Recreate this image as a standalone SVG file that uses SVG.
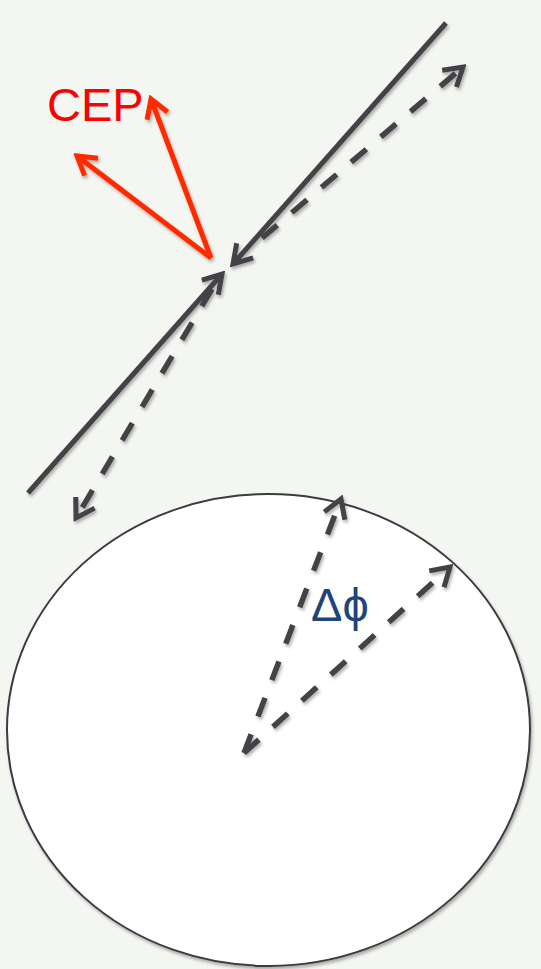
<svg xmlns="http://www.w3.org/2000/svg" width="541" height="969" viewBox="0 0 541 969">
  <style>
    .solid { stroke: #434347; stroke-width: 5; fill: none; stroke-linecap: butt; }
    .dash { stroke: #434347; stroke-width: 5.5; fill: none; stroke-dasharray: 20 19; }
    .red { stroke: #ff2a00; stroke-width: 5; fill: none; }
    .lbl { font-family: "Liberation Sans", Arial, sans-serif; font-size: 47px; }
  </style>
  <defs>
    <filter id="sh" x="-20%" y="-20%" width="140%" height="140%">
      <feDropShadow dx="1.5" dy="2.5" stdDeviation="1.5" flood-color="#000" flood-opacity="0.3"/>
    </filter>
    <marker id="ag" markerUnits="userSpaceOnUse" viewBox="-22 -14 26 28" markerWidth="26" markerHeight="28" refX="0" refY="0" orient="auto">
      <path d="M-18,-11 L0,0 L-18,11" fill="none" stroke="#434347" stroke-width="5" stroke-linecap="butt"/>
    </marker>
    <marker id="ar" markerUnits="userSpaceOnUse" viewBox="-22 -14 26 28" markerWidth="26" markerHeight="28" refX="0" refY="0" orient="auto">
      <path d="M-18,-11 L0,0 L-18,11" fill="none" stroke="#ff2a00" stroke-width="5" stroke-linecap="butt"/>
    </marker>
  </defs>
  <rect x="0" y="0" width="541" height="969" fill="#f4f6f2"/>

  <g id="circle">
    <ellipse cx="268.5" cy="730" rx="261.5" ry="236" fill="#ffffff" stroke="#3a3a3f" stroke-width="2" filter="url(#sh)"/>
  </g>

  <g id="connectors" filter="url(#sh)">
    <line class="solid" x1="446" y1="23" x2="233" y2="264" marker-end="url(#ag)"/>
    <line class="solid" x1="28" y1="493" x2="222" y2="274" marker-end="url(#ag)"/>
    <line class="dash" x1="262" y1="238" x2="463" y2="67" marker-end="url(#ag)"/>
    <line class="dash" x1="212" y1="289" x2="76" y2="518" marker-end="url(#ag)"/>
    <line class="red" x1="211" y1="258" x2="151" y2="99" marker-end="url(#ar)"/>
    <line class="red" x1="211" y1="258" x2="77" y2="156" marker-end="url(#ar)"/>
    <line class="dash" x1="244" y1="753" x2="341" y2="499" marker-end="url(#ag)"/>
    <line class="dash" x1="244" y1="753" x2="450" y2="567" marker-end="url(#ag)"/>
  </g>

  <g id="label-cep">
    <text class="lbl" x="47" y="121" fill="#ff0000">CEP</text>
  </g>
  <g id="label-dphi">
    <text class="lbl" x="311" y="621" fill="#1f447a">Δϕ</text>
  </g>
</svg>
